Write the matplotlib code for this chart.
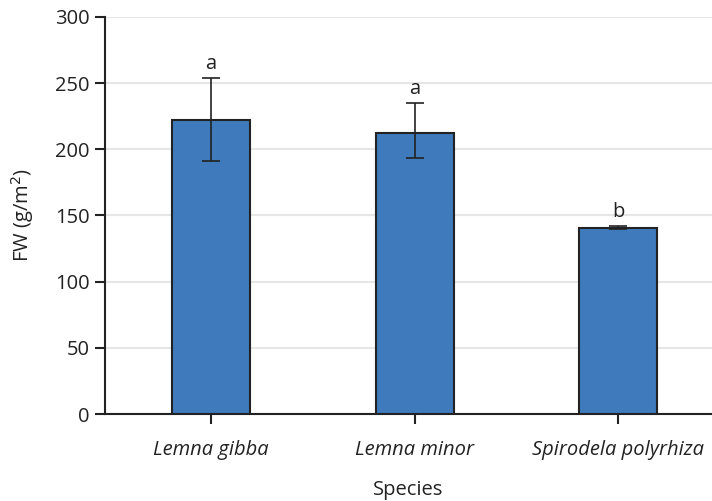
import matplotlib.pyplot as plt
import numpy as np

species = ['Lemna gibba', 'Lemna minor', 'Spirodela polyrhiza']
fw = [222.3, 212.5, 140.8]
err_low = [31.0, 19.0, 1.0]
err_high = [31.5, 22.5, 1.0]
letters = ['a', 'a', 'b']

plt.rcParams['font.family'] = ['Open Sans', 'DejaVu Sans']
plt.rcParams['font.size'] = 14.5

fig = plt.figure(figsize=(7.12, 5.01), dpi=100)
ax = fig.add_axes([105 / 712, 87 / 501, 607 / 712, 397 / 501])

x = np.arange(len(species))
ax.bar(x, fw, width=0.383, color='#3f7abd', edgecolor='#222222', linewidth=1.5, zorder=3)
ax.errorbar(x, fw, yerr=[err_low, err_high], fmt='none', ecolor='#222222',
            elinewidth=1.2, capsize=6.5, capthick=1.2, zorder=4)
for i in range(len(x)):
    ax.text(x[i], fw[i] + err_high[i] + 3, letters[i], ha='center', va='bottom',
            fontsize=14.5, color='#222222')

ax.set_xlim(-0.52, 2.459)
ax.set_ylim(0, 300)
ax.set_yticks(range(0, 301, 50))
ax.set_xticks(x)
ax.set_xticklabels(species, fontstyle='italic')
ax.yaxis.grid(True, color='#e6e6e6', linewidth=1.5, zorder=0)
for s in ['top', 'right']:
    ax.spines[s].set_visible(False)
ax.spines['left'].set_linewidth(1.5)
ax.spines['bottom'].set_linewidth(1.5)
ax.spines['left'].set_color('#222222')
ax.spines['bottom'].set_color('#222222')
ax.tick_params(axis='both', length=7, width=1.5, color='#222222', labelcolor='#222222', pad=4)
ax.tick_params(axis='x', pad=12)
ax.set_ylabel('FW (g/m$^2$)', color='#222222', labelpad=14)
ax.set_xlabel('Species', color='#222222', labelpad=14)

fig.savefig('out.png', dpi=100)
